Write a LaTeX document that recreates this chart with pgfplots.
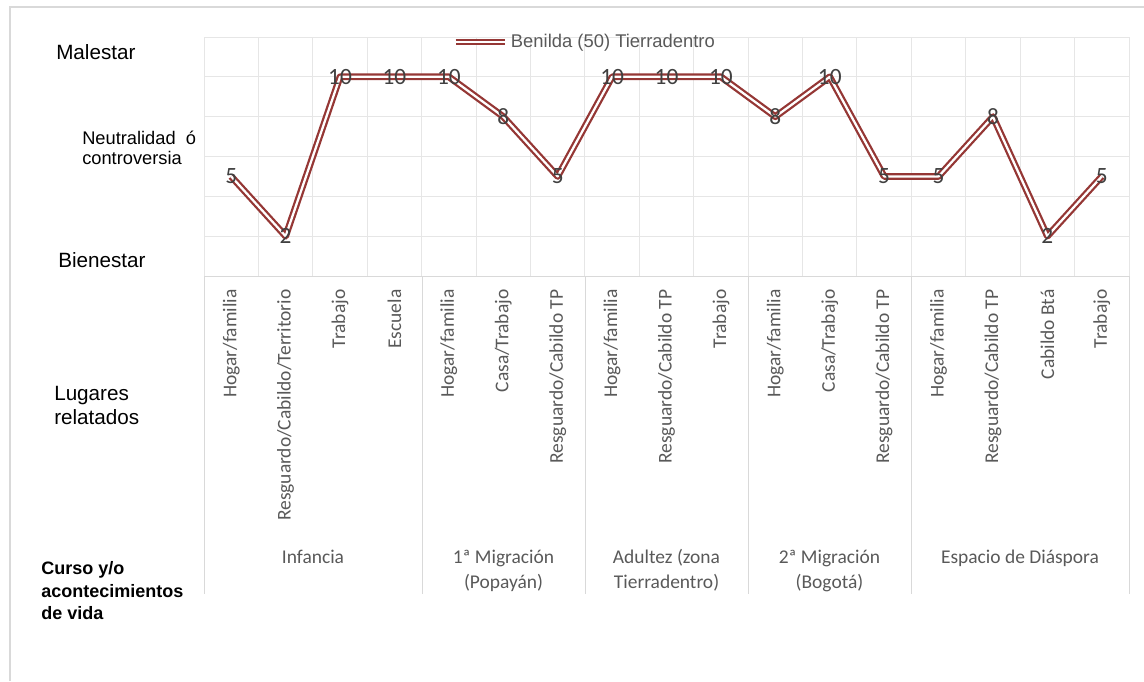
\documentclass[border=0pt]{standalone}
\usepackage{pgfplots}
\pgfplotsset{compat=1.18}
\usepackage{fontspec}
\setmainfont{Carlito}
\newfontfamily\arialfont{Liberation Sans}

\definecolor{lineRed}{HTML}{953735}
\definecolor{labelGray}{HTML}{404040}
\definecolor{tickGray}{HTML}{595959}
\definecolor{gridGray}{HTML}{E6E6E6}
\definecolor{sepGray}{HTML}{D9D9D9}

\begin{document}
\begin{tikzpicture}
\begin{axis}[
  at={(153pt,-207pt)}, anchor=south west,
  scale only axis, width=693.75pt, height=179.25pt,
  xmin=-0.5, xmax=16.5, ymin=0, ymax=12,
  clip=false,
  /pgf/number format/assume math mode=true,
  xtick={0,...,16},
  xticklabels={Hogar/familia, Resguardo/Cabildo/Territorio, Trabajo, Escuela,
    Hogar/familia, Casa/Trabajo, Resguardo/Cabildo TP,
    Hogar/familia, Resguardo/Cabildo TP, Trabajo,
    Hogar/familia, Casa/Trabajo, Resguardo/Cabildo TP,
    Hogar/familia, Resguardo/Cabildo TP, Cabildo Btá, Trabajo},
  minor xtick={-0.5,0.5,...,16.5},
  ytick={0,2,...,12}, yticklabels={},
  xminorgrids, ymajorgrids,
  grid style={gridGray, line width=0.75pt},
  minor grid style={gridGray, line width=0.75pt},
  major tick length=0pt, minor tick length=0pt,
  axis line style={draw=none},
  xticklabel style={rotate=90, anchor=east, inner sep=0pt,
    font=\fontsize{14.6}{17}\selectfont, text=tickGray},
  xticklabel shift=10pt,
  legend style={at={(0.268,0.979)}, anchor=west, draw=none, fill=none,
    inner sep=0pt, font=\arialfont\fontsize{13.8}{16}\selectfont, text=tickGray},
  legend image code/.code={\draw[#1] (0pt,0pt) -- (37pt,0pt);},
]
\addplot[lineRed, line width=1.7pt, double=white, double distance=1.7pt,
  line join=round,
  nodes near coords, nodes near coords align=center,
  every node near coord/.append style={anchor=center, text=labelGray,
    inner sep=0pt, font=\fontsize{17.5}{20}\selectfont}]
  coordinates {
    (0,5) (1,2) (2,10) (3,10)
    (4,10) (5,8) (6,5)
    (7,10) (8,10) (9,10)
    (10,8) (11,10) (12,5)
    (13,5) (14,8) (15,2) (16,5)
  };
\addlegendentry{Benilda (50) Tierradentro}
\end{axis}

\begin{scope}[x=0.75pt, y=-0.75pt]
  \path[use as bounding box] (0,0) rectangle (1144,681);
  % chart frame
  \draw[sepGray, line width=1.1pt] (10,681) -- (10,7) -- (1144,7);
  % category table below the plot
  \draw[sepGray, line width=0.75pt] (204,276) -- (1129,276);
  \foreach \x in {204,422,585,748,911,1129}
    \draw[sepGray, line width=0.75pt] (\x,276) -- (\x,594);

  % group labels
  \begin{scope}[every node/.style={anchor=base, inner sep=0pt, text=tickGray,
      font=\fontsize{14.6}{17}\selectfont}]
    \node at (313,563) {Infancia};
    \node at (503.5,563) {1ª Migración};
    \node at (503.5,588) {(Popayán)};
    \node at (666.5,563) {Adultez (zona};
    \node at (666.5,588) {Tierradentro)};
    \node at (829.5,563) {2ª Migración};
    \node at (829.5,588) {(Bogotá)};
    \node at (1020,563) {Espacio de Diáspora};
  \end{scope}

  % scale and row labels on the left
  \begin{scope}[every node/.style={anchor=base west, inner sep=0pt, text=black}]
    \node[font=\arialfont\fontsize{15.5}{18}\selectfont] at (56,60) {Malestar};
    \node[font=\arialfont\fontsize{13.7}{16}\selectfont] at (82,145) {Neutralidad~~ó};
    \node[font=\arialfont\fontsize{13.7}{16}\selectfont] at (82,165) {controversia};
    \node[font=\arialfont\fontsize{15.5}{18}\selectfont] at (58,267) {Bienestar};
    \node[font=\arialfont\fontsize{15.5}{18}\selectfont] at (54,400) {Lugares};
    \node[font=\arialfont\fontsize{15.5}{18}\selectfont] at (54,424) {relatados};
    \node[font=\arialfont\bfseries\fontsize{13.5}{16}\selectfont] at (41,574) {Curso y/o};
    \node[font=\arialfont\bfseries\fontsize{13.5}{16}\selectfont] at (41,597) {acontecimientos};
    \node[font=\arialfont\bfseries\fontsize{13.5}{16}\selectfont] at (41,619) {de vida};
  \end{scope}
\end{scope}
\end{tikzpicture}
\end{document}
